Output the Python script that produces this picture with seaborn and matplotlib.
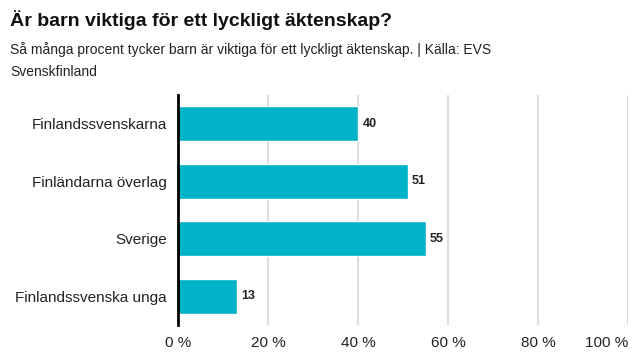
import matplotlib
matplotlib.use("Agg")
import matplotlib.pyplot as plt
import seaborn as sns

# --- Data ---
kategorier = ["Finlandssvenskarna", "Finländarna överlag", "Sverige", "Finlandssvenska unga"]
procent = [40, 51, 55, 13]
ticks = [0, 20, 40, 60, 80, 100]
tick_labels = ["0 %", "20 %", "40 %", "60 %", "80 %", "100 %"]

sns.set_style("white")
plt.rcParams["font.family"] = ["Liberation Sans", "DejaVu Sans"]

fig = plt.figure(figsize=(6.4, 3.6), dpi=100)
ax = fig.add_axes([178 / 640, 1 - 325 / 360, 450 / 640, 230 / 360])

sns.barplot(x=procent, y=kategorier, color="#00b3c8", width=0.61,
            orient="h", ax=ax, saturation=1)

for i, v in enumerate(procent):
    ax.text(v + 1, i, str(v), va="center", ha="left", fontsize=9,
            fontweight="bold", color="#222222")

ax.set_xlim(0, 100)
ax.set_ylim(3.5, -0.5)
ax.set_xticks(ticks)
ax.set_xticklabels(tick_labels, fontsize=11, color="#222222")
ax.tick_params(axis="y", labelsize=11, labelcolor="#222222", length=0, pad=8)
ax.tick_params(axis="x", length=0, pad=8)
ax.xaxis.grid(True, color="#dddddd", linewidth=1.5)
ax.set_axisbelow(True)
ax.set_xlabel("")
ax.set_ylabel("")
for s in ["top", "right", "bottom"]:
    ax.spines[s].set_visible(False)
ax.spines["left"].set_color("black")
ax.spines["left"].set_linewidth(2)
# keep the 100 % label inside the figure
ax.get_xticklabels()[-1].set_horizontalalignment("right")
ax.get_xticklabels()[-1].set_x(100)

fig.text(10 / 640, 1 - 20 / 360, "Är barn viktiga för ett lyckligt äktenskap?",
         fontsize=14, fontweight="bold", va="center", ha="left", color="#111111")
fig.text(10 / 640, 1 - 50 / 360,
         "Så många procent tycker barn är viktiga för ett lyckligt äktenskap. | Källa: EVS",
         fontsize=10, va="center", ha="left", color="#222222")
fig.text(10 / 640, 1 - 72 / 360, "Svenskfinland",
         fontsize=10, va="center", ha="left", color="#222222")

fig.savefig("out.png", dpi=100)
